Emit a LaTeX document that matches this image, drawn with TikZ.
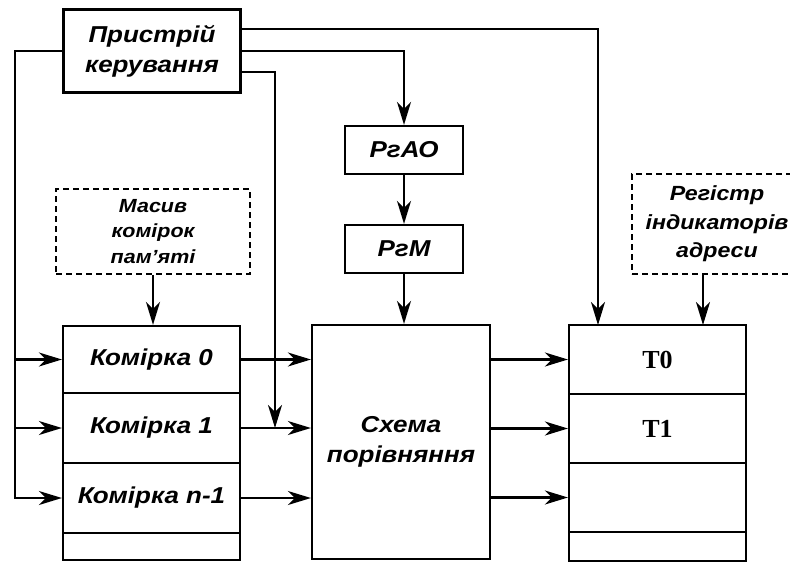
\documentclass[tikz,border=0pt]{standalone}
\usepackage{fontspec}
\setmainfont{Liberation Sans}[FakeStretch=1.13]
\newfontfamily\tserif{Liberation Serif}
\usetikzlibrary{arrows.meta}
\tikzset{
  blk/.style={draw, line width=2.2pt, inner sep=0pt, align=center,
              font=\fontsize{23}{30}\selectfont\bfseries\itshape},
  dbox/.style={blk, dashed, dash pattern=on 6pt off 4pt},
  regfont/.style={font=\fontsize{23}{26}\selectfont\bfseries\itshape},
  tlbl/.style={font=\fontsize{26}{28}\selectfont\tserif\bfseries},
  wire/.style={line width=2.2pt},
  arr/.style={wire, -{Stealth[length=23pt,width=14pt,inset=7pt]}}
}
\begin{document}
\begin{tikzpicture}[x=1pt,y=-1pt]
\useasboundingbox (0,0) rectangle (790,563);
\clip (0,0) rectangle (790,563);

% control unit
\node[blk, minimum width=177pt, minimum height=83pt] (ctrl) at (152,51) {Пристрій\\керування};

% address / mask registers
\node[blk, regfont, minimum width=118pt, minimum height=48pt] (rgao) at (404,150) {РгАО};
\node[blk, regfont, minimum width=118pt, minimum height=48pt] (rgm) at (404,249) {РгМ};

% dashed group boxes
\node[dbox, minimum width=194pt, minimum height=85pt, font=\fontsize{19}{25.5}\selectfont\bfseries\itshape] (mas) at (153,231.5) {Масив\\комірок\\пам’яті};
\node[dbox, minimum width=170pt, minimum height=100pt, font=\fontsize{20.5}{28.5}\selectfont\bfseries\itshape] (reg) at (717,224) {Регістр\\індикаторів\\адреси};

% memory cells
\node[blk, minimum width=177pt, minimum height=67pt] (cell0) at (151.5,359.5) {Комірка 0};
\node[blk, minimum width=177pt, minimum height=70pt] (cell1) at (151.5,428) {Комірка 1};
\node[blk, minimum width=177pt, minimum height=70pt] (celln) at (151.5,498) {Комірка n-1};
\node[blk, minimum width=177pt, minimum height=27pt] (cellx) at (151.5,546.5) {};

% comparison circuit
\node[blk, minimum width=178pt, minimum height=234pt] (cmp) at (401,442) {Схема\\порівняння};

% indicator register
\node[blk, tlbl, minimum width=177pt, minimum height=69pt] (t0) at (657.5,359.5) {T0};
\node[blk, tlbl, minimum width=177pt, minimum height=69pt] (t1) at (657.5,428.5) {T1};
\node[blk, minimum width=177pt, minimum height=69pt] (t2) at (657.5,497.5) {};
\node[blk, minimum width=177pt, minimum height=29pt] (t3) at (657.5,546.5) {};

% junction points of the control wires
\coordinate (lbus) at (15,498);
\coordinate (tin) at (598,325);
\coordinate (regin) at (703,325);
\coordinate (regout) at (703,274);
\coordinate (c1in) at (275,428);

% control unit -> cells (left bus)
\draw[arr] (ctrl.west) -| (lbus) -- (celln.west);
\draw[arr] (lbus |- cell0.west) -- (cell0.west);
\draw[arr] (lbus |- cell1.west) -- (cell1.west);

% control unit -> indicator register, РгАО, comparison input
\draw[arr] ([yshift=22pt]ctrl.east) -| (tin);
\draw[arr] (ctrl.east) -| (rgao.north);
\draw[arr] ([yshift=-21pt]ctrl.east) -| (c1in);

% register chain
\draw[arr] (rgao.south) -- (rgm.north);
\draw[arr] (rgm.south) -- (rgm.south |- cmp.north);
\draw[arr] (mas.south) -- (mas.south |- cell0.north);
\draw[arr] (regout) -- (regin);

% cells -> comparison circuit
\draw[arr] (cell0.east) -- (cmp.west |- cell0.east);
\draw[arr] (cell1.east) -- (cmp.west |- cell1.east);
\draw[arr] (celln.east) -- (cmp.west |- celln.east);

% comparison circuit -> indicators
\draw[arr] (cmp.east |- t0.west) -- (t0.west);
\draw[arr] (cmp.east |- t1.west) -- (t1.west);
\draw[arr] (cmp.east |- t2.west) -- (t2.west);
\end{tikzpicture}
\end{document}
